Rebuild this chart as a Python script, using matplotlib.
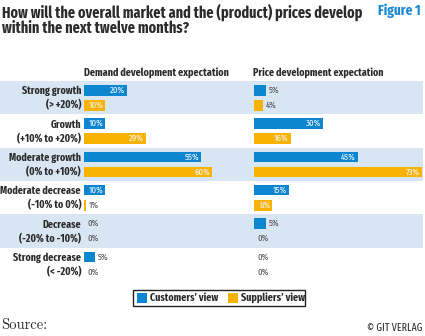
import matplotlib
matplotlib.use("Agg")
import matplotlib.pyplot as plt
from matplotlib.patches import Rectangle

# data
categories = [
    ("Strong growth", "(> +20%)"),
    ("Growth", "(+10% to +20%)"),
    ("Moderate growth", "(0% to +10%)"),
    ("Moderate decrease", "(-10% to 0%)"),
    ("Decrease", "(-20% to -10%)"),
    ("Strong decrease", "(< -20%)"),
]
demand_customers = [20, 10, 55, 10, 0, 5]
demand_suppliers = [10, 29, 60, 1, 0, 0]
price_customers = [5, 30, 45, 15, 5, 0]
price_suppliers = [4, 16, 73, 8, 0, 0]
series_labels = ["Customers\u2019 view", "Suppliers\u2019 view"]

BLUE = "#0d86d0"
ORANGE = "#f8b200"
BAND = "#d8e5f2"
DARK = "#2b2b2b"
GREY = "#555555"
COND = ["Fira Sans Extra Condensed", "DejaVu Sans"]

W, H = 425, 336
fig = plt.figure(figsize=(W / 100, H / 100), dpi=100)
renderer = fig.canvas.get_renderer()


def fx(px):
    return px / W


def fy(py):
    return 1 - py / H


def fit(t, width_px):
    # scale the font so the text spans the same width as in the reference
    bb = t.get_window_extent(renderer)
    t.set_fontsize(t.get_fontsize() * width_px / bb.width)
    return t.get_fontsize()


ROW_TOP, ROW_BOT = 81, 281
n = len(categories)


def add_axes(x0, x1):
    return fig.add_axes([fx(x0), fy(ROW_BOT), fx(x1 - x0), (ROW_BOT - ROW_TOP) / H])


# background bands
bg = add_axes(0, 423)
bg.set_xlim(0, 1)
bg.set_ylim(n - 0.5, -0.5)
for i in range(0, n, 2):
    bg.axhspan(i - 0.5, i + 0.5, color=BAND, lw=0)
bg.set_axis_off()

OFF = 0.225
BH = 0.32

probe = fig.text(0, 0, "20%", fontsize=7, family=COND)
VAL_FS = fit(probe, 15)
probe.remove()


def panel(x0, x1, xmax, cust, supp):
    ax = add_axes(x0, x1)
    ax.set_xlim(0, xmax)
    ax.set_ylim(n - 0.5, -0.5)
    ax.patch.set_alpha(0)
    ax.set_axis_off()
    ys = list(range(n))
    px_per = (x1 - x0) / xmax
    for vals, off, col in ((cust, -OFF, BLUE), (supp, OFF, ORANGE)):
        yy = [y + off for y in ys]
        ax.barh(yy, vals, height=BH, color=col, lw=0)
        for y, v in zip(yy, vals):
            if v >= 8:
                ax.text(v - 2 / px_per, y, f"{v}%", ha="right", va="center",
                        color="#eef4ff", fontsize=VAL_FS, family=COND)
            else:
                ax.text(v + 3 / px_per, y, f"{v}%", ha="left", va="center",
                        color=GREY, fontsize=VAL_FS, family=COND)
    return ax


panel(84, 212, 60, demand_customers, demand_suppliers)
panel(254, 422, 73, price_customers, price_suppliers)

# category labels
probe = fig.text(0, 0, "Moderate decrease", fontsize=8, fontweight="bold", family=COND)
CAT_FS = fit(probe, 80)
probe.remove()
for i, (name, rng) in enumerate(categories):
    yc = ROW_TOP + (i + 0.5) * (ROW_BOT - ROW_TOP) / n
    fig.text(fx(81), fy(yc - 6.5), name, ha="right", va="center",
             fontsize=CAT_FS, fontweight="bold", color=DARK, family=COND)
    fig.text(fx(81), fy(yc + 7.5), rng, ha="right", va="center",
             fontsize=CAT_FS, fontweight="bold", color=DARK, family=COND)

# titles
t1 = fig.text(fx(2), fy(12), "How will the overall market and the (product) prices develop",
              ha="left", va="center", fontsize=11, fontweight="bold", color=DARK, family=COND)
TITLE_FS = fit(t1, 358)
fig.text(fx(2), fy(28), "within the next twelve months?",
         ha="left", va="center", fontsize=TITLE_FS, fontweight="bold", color=DARK, family=COND)
f1 = fig.text(fx(421), fy(11), "Figure 1", ha="right", va="center",
              fontsize=11, fontweight="bold", color="#1a8ad2", family=COND)
fit(f1, 43)
h1 = fig.text(fx(84), fy(73), "Demand development expectation", ha="left", va="center",
              fontsize=7.5, fontweight="bold", color=DARK, family=COND)
fit(h1, 144)
h2 = fig.text(fx(253), fy(73), "Price development expectation", ha="left", va="center",
              fontsize=7.5, fontweight="bold", color=DARK, family=COND)
fit(h2, 130)

# legend box
fig.patches.append(Rectangle((fx(133), fy(306)), fx(305 - 133), (306 - 290) / H,
                             transform=fig.transFigure, fill=False, ec="#222222", lw=1))
for sx, col, lab in ((137, BLUE, series_labels[0]), (228, ORANGE, series_labels[1])):
    fig.patches.append(Rectangle((fx(sx), fy(303)), fx(10), 10 / H,
                                 transform=fig.transFigure, color=col, lw=0))
    lt = fig.text(fx(sx + 13), fy(298), lab, ha="left", va="center",
                  fontsize=8, fontweight="bold", color=DARK, family=COND)
    fit(lt, 68 if sx == 137 else 64)

src = fig.text(fx(1), fy(325), "Source:", ha="left", va="center",
               fontsize=9.5, color=DARK, family=["cmr10", "DejaVu Serif"])
fit(src, 46)
cp = fig.text(fx(422), fy(328), "\u00a9 GIT VERLAG", ha="right", va="center",
              fontsize=6.5, color=DARK, family=COND)
fit(cp, 55)

fig.savefig("out.png", dpi=100)
